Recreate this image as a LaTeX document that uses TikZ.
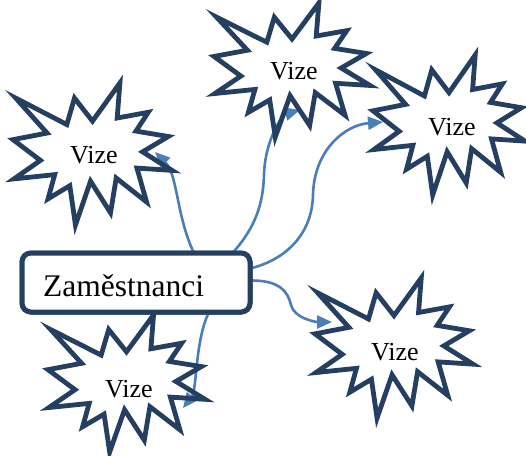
\documentclass[tikz,border=0pt]{standalone}
\usepackage{fontspec}
\setmainfont{Liberation Serif}
\usetikzlibrary{arrows.meta}

\definecolor{navy}{RGB}{36,63,96}
\definecolor{linkblue}{RGB}{74,126,187}

\tikzset{
  burstline/.style={draw=navy, line width=4.8pt, line join=miter},
  % 24-point explosion outline in a 100 x 100 box (y grows downwards)
  burst/.pic={
    \draw[burstline] (50,26.85) -- (67.23,0) -- (65.53,24.65) -- (85.09,20.63)
      -- (77.32,33.87) -- (97.67,37.67) -- (81.51,48.50) -- (100,61.53)
      -- (77.95,59.92) -- (84.00,83.77) -- (64.91,66.93) -- (61.33,91.38)
      -- (48.76,69.14) -- (39.28,100) -- (35.72,72.35) -- (22.05,81.56)
      -- (26.24,64.52) -- (0.625,67.53) -- (17.23,54.51) -- (0,39.88)
      -- (21.42,35.26) -- (1.71,10.63) -- (33.85,29.26) -- (38.67,10.63)
      -- cycle;
  },
  vize/.style={font=\fontsize{26}{30}\selectfont, anchor=base, inner sep=0pt},
  empbox/.style={draw=navy, line width=5pt, rounded corners=9pt, fill=white,
    minimum width=228pt, minimum height=59pt, inner sep=0pt, outer sep=0pt},
  emptext/.style={font=\fontsize{31.5}{36}\selectfont, anchor=base west, inner sep=0pt},
  link/.style={draw=linkblue, line width=2.6pt,
    -{Triangle[length=15pt,width=13pt]}},
}

\begin{document}
\begin{tikzpicture}[x=1pt, y=-1pt]
  \useasboundingbox (0,0) rectangle (526,455);

  % central box (placed first so the links can refer to it)
  \node[empbox] (emp) at (136,282.5) {};

  % arrow tips
  \coordinate (t1) at (155,152);
  \coordinate (t2) at (300,110);
  \coordinate (t3) at (383,122);
  \coordinate (t4) at (332,322);
  \coordinate (t5) at (183,408);

  % links from the box to the bursts
  \draw[link] (emp.27.36) .. controls (176,215) and (178,175) .. (t1);
  \draw[link] (emp.17.08) .. controls (255,228) and (263,205) .. (264,175)
                          .. controls (265,140) and (282,115) .. (t2);
  \draw[link] (emp.7.25) .. controls (285,260) and (312,235) .. (313,195)
                         .. controls (314,150) and (345,125) .. (t3);
  \draw[link] (emp.1.76) .. controls (280,280) and (288,292) .. (291,305)
                         .. controls (294,318) and (315,322) .. (t4);
  \draw[link] (emp.-22.28) .. controls (195,340) and (197,390) .. (t5);

  % bursts
  \pic[xscale=1.59, yscale=1.42] at (13,83) {burst};
  \pic[xscale=1.56, yscale=1.34] at (214,3) {burst};
  \pic[xscale=1.52, yscale=1.40] at (373,55) {burst};
  \pic[xscale=1.58, yscale=1.40] at (315,278) {burst};
  \pic[xscale=1.57, yscale=1.37] at (48,315) {burst};

  % box drawn again on top of the lower burst's spike
  \node[empbox] at (emp) {};

  % labels
  \node[emptext] (empt) at (43,296) {Zaměstnanci};
  \node[vize] (v1) at (94,163) {Vize};
  \node[vize] (v2) at (294,79) {Vize};
  \node[vize] (v3) at (452,135) {Vize};
  \node[vize] (v4) at (395,360) {Vize};
  \node[vize] (v5) at (129,397) {Vize};
\end{tikzpicture}
\end{document}
